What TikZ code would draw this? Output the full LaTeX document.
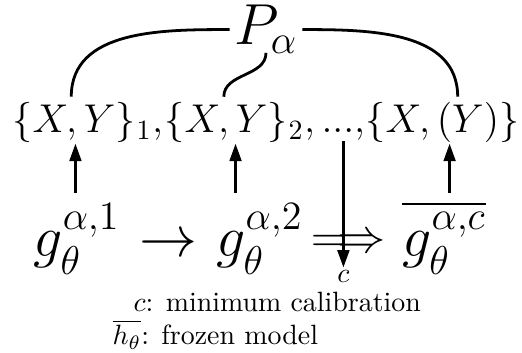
\documentclass[tikz,border=0pt]{standalone}
\usepackage{amsmath,amssymb}
\usetikzlibrary{arrows.meta,positioning,calc}

\begin{document}
\begin{tikzpicture}[
    x=0.3584pt, y=-0.3584pt,
    setnode/.style={inner sep=0pt, anchor=base west, font=\fontsize{14}{17}\selectfont},
    gnode/.style={inner xsep=0pt, inner ysep=2.5pt, anchor=base west, font=\huge},
    link/.style={line width=1pt},
    arr/.style={-{Triangle[length=6.3pt,width=4.2pt]}, line width=1pt},
    lbl/.style={inner sep=0pt, anchor=base west},
  ]
  \useasboundingbox (0,0) rectangle (522,353);

  %% top node
  \node[inner sep=1.5pt, font=\huge, anchor=base] (P) at (266,45) {$P_\alpha$};

  %% data row
  \node[setnode] (xy1)  at (12,133)        {$\{X,Y\}$};
  \node[setnode] (sub1) at (xy1.base east) {$_1,$};
  \node[setnode] (xy2)  at (164,133)       {$\{X,Y\}$};
  \node[setnode] (sub2) at (xy2.base east) {$_2,$};
  \node[setnode] (dots) at (321,133)       {$...,$};
  \node[setnode] (xyc)  at (365,133)       {$\{X,(Y)\}$};

  \draw[link] (P.west) to[out=180,in=90] ([xshift=-1pt,yshift=2pt]xy1.north);
  \draw[link] ([yshift=2pt]P.south) to[out=-90,in=90] ([xshift=-0.8pt,yshift=2pt]xy2.north);
  \draw[link] (P.east) to[out=0,in=90] ([xshift=5.5pt,yshift=2pt]xyc.north);

  %% model row
  \node[gnode] (g1)  at (33,257)                        {$g_\theta^{\alpha,1}$};
  \node[gnode] (to1) at ([xshift=6.5pt]g1.base east)    {$\rightarrow$};
  \node[gnode] (g2)  at ([xshift=6.5pt]to1.base east)   {$g_\theta^{\alpha,2}$};
  \node[gnode, font=\LARGE] (to2) at ([xshift=2.6pt,yshift=1.6pt]g2.base east) {$\Longrightarrow$};
  \node[gnode] (g3)  at ([xshift=5.4pt,yshift=-1.6pt]to2.base east) {$\overline{g_\theta^{\alpha,c}}$};

  \draw[arr] ([xshift=0.5pt]xy1.south |- g3.north) -- ([xshift=0.5pt]xy1.south);
  \draw[arr] ([xshift=3.4pt]xy2.south |- g3.north) -- ([xshift=3.4pt]xy2.south);
  \draw[arr] ([xshift=2.6pt]xyc.south |- g3.north) -- ([xshift=2.6pt]xyc.south);

  %% calibration arrow and legend
  \coordinate (cpos) at (0,283);
  \node[inner sep=1pt, anchor=base] (cmin) at (dots.base |- cpos) {$c$};
  \draw[arr] (dots.south) -- (cmin.north);

  \node[lbl] (legc) at (133,312) {$c$: minimum calibration};
  \node[lbl] (legh) at (112,345) {$\overline{h_\theta}$: frozen model};
\end{tikzpicture}
\end{document}
